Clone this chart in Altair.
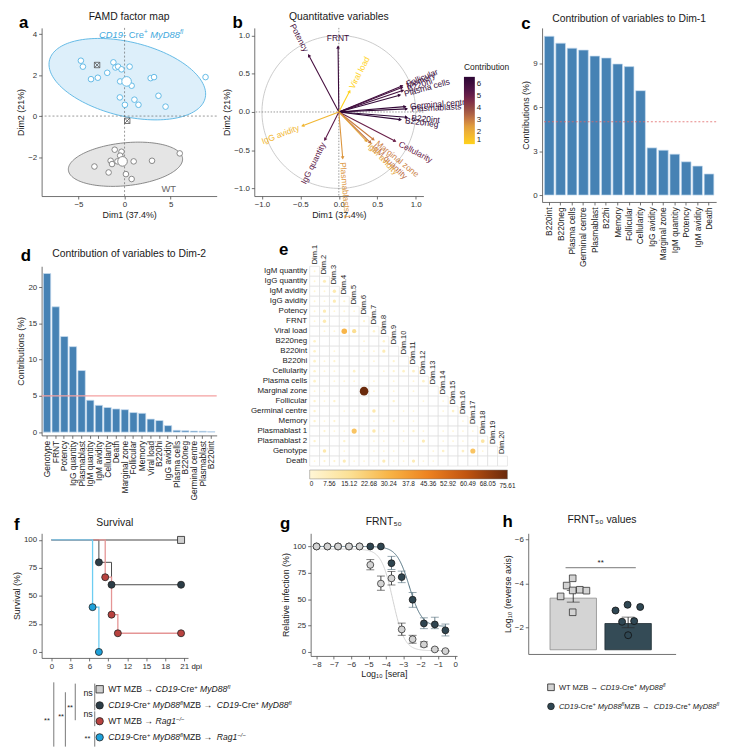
import math
import altair as alt
import numpy as np
import pandas as pd

FONT = "Liberation Sans"
INK = "#1a1a1a"
ONE = pd.DataFrame({"k": [0]})

# ---------------- Panel a : FAMD factor map ----------------
a_cd19_x = [-4.74, -4.52, -1.21, -0.99, -0.70, -0.33, 0.55, -1.88, -2.90, -3.64, -0.48, 0.77, 2.83, 3.20, 8.79, -0.51, 1.07, 1.51, 0.04, 3.68, 4.45]
a_cd19_y = [2.70, 2.41, 2.62, 2.37, 2.41, 2.28, 2.41, 2.11, 1.87, 1.80, 1.69, 1.48, 1.85, 1.90, 1.90, 0.91, 0.80, 0.55, 0.55, 0.99, 0.46]
a_wt_x = [-1.07, -0.33, -0.48, -1.51, -1.36, -0.77, 0.99, -3.27, -1.73, 0.15, 0.77, 2.98, 5.99]
a_wt_y = [-1.64, -1.74, -1.93, -2.18, -2.34, -2.21, -2.21, -2.46, -2.75, -2.83, -3.07, -2.18, -1.82]
a_centroid_x = [0.22, -0.22]
a_centroid_y = [1.69, -2.21]
a_supp_x = [-2.98, 0.29]
a_supp_y = [2.49, -0.23]
a_groups = ["CD19", "WT"]
a_ell_cx = [0.3, 0.1]
a_ell_cy = [1.8, -2.35]
a_ell_a = [8.5, 6.2]
a_ell_b = [1.85, 1.05]
a_ell_tilt = [-0.085, 0.04]

# ---------------- Panel b : variable correlation circle ----------------
b_vars = ["FRNT", "Potency", "Viral load", "Follicular", "Memory", "B220hi", "Plasma cells",
          "Germinal centre", "Plasmablasts", "B220int", "B220neg", "Cellularity", "Marginal zone",
          "IgM quantity", "IgM avidity", "Plasmablasts 1", "IgG quantity", "IgG avidity"]
b_x = [-0.01, -0.39, 0.14, 0.82, 0.82, 0.83, 0.79, 0.86, 0.88, 0.88, 0.80, 0.73, 0.45, 0.41, 0.36, 0.05, -0.18, -0.47]
b_y = [0.85, 0.74, 0.27, 0.34, 0.32, 0.28, 0.22, 0.07, 0.04, -0.07, -0.10, -0.38, -0.36, -0.40, -0.38, -0.60, -0.36, -0.18]
b_contrib = [6.2, 5.8, 1.0, 6.0, 5.9, 6.0, 6.3, 6.4, 6.4, 6.6, 6.5, 5.0, 3.0, 3.3, 2.3, 2.6, 5.2, 1.8]

# ---------------- Panel c : contributions to Dim-1 ----------------
c_vars = ["B220int", "B220neg", "Plasma cells", "Germinal centre", "Plasmablast", "B22hi", "Memory",
          "Follicular", "Cellularity", "IgG avidity", "Marginal zone", "IgM quantity", "Potency",
          "IgM avidity", "Death"]
c_vals = [10.83, 10.36, 10.02, 9.89, 9.48, 9.35, 8.94, 8.76, 7.12, 3.22, 3.06, 2.79, 2.27, 1.98, 1.44]

# ---------------- Panel d : contributions to Dim-2 ----------------
d_vars = ["Genotype", "FRNT", "Potency", "IgG quantity", "Plasmablast", "IgM quantity", "IgM avidity",
          "Cellularity", "Death", "Marginal zone", "Follicular", "Memory", "Viral load", "B220hi",
          "IgG avidity", "Plasma cells", "B220neg", "Germinal centre", "Plasmablast ", "B220int"]
d_vals = [21.9, 17.3, 13.2, 11.8, 8.5, 4.4, 3.7, 3.4, 3.2, 3.1, 2.7, 2.6, 1.8, 1.6, 0.9, 0.25, 0.2, 0.15, 0.12, 0.08]

# ---------------- Panel e : contribution matrix ----------------
e_rows = ["IgM quantity", "IgG quantity", "IgM avidity", "IgG avidity", "Potency", "FRNT", "Viral load",
          "B220neg", "B220int", "B220hi", "Cellularity", "Plasma cells", "Marginal zone", "Follicular",
          "Germinal centre", "Memory", "Plasmablast 1", "Plasmablast 2", "Genotype", "Death"]
e_cols = ["Dim.%d" % i for i in range(1, 21)]
e_igm_quantity = [0.5]
e_igg_quantity = [0.5, 7]
e_igm_avidity = [0.5, 0.5, 9]
e_igg_avidity = [0.5, 0.3, 8, 2]
e_potency = [0.5, 8, 0.3, 0.5, 0.2]
e_frnt = [0.3, 9, 0, 0.4, 0, 2]
e_viral_load = [0, 0.5, 0.5, 30, 16, 0, 3]
e_b220neg = [4, 0, 0, 0, 0, 0.5, 0, 3]
e_b220int = [4, 0, 0.3, 0, 0, 0.4, 0.3, 8, 0]
e_b220hi = [4, 0.4, 2, 0, 0, 0, 0.4, 0, 2, 0]
e_cellularity = [3, 0.5, 0.5, 0, 4, 0.3, 0, 0.5, 2, 4, 5]
e_plasma_cells = [4, 0, 0.3, 0.5, 0.5, 0, 0.5, 0, 0.4, 0, 0.4, 4]
e_marginal_zone = [0.5, 0.5, 0, 0, 0, 75.61, 0.5, 0, 0.4, 0, 0.4, 0, 0]
e_follicular = [3, 0.3, 3, 0, 0, 0, 0, 0, 3, 0, 0, 0.3, 0, 0.3]
e_germinal_centre = [3, 0, 0, 0.3, 0.5, 0.3, 10, 0, 0, 0.3, 0.3, 0, 0, 0.3, 4]
e_memory = [3, 0.3, 2, 0, 0, 0, 0.3, 0, 2, 0, 0.3, 0, 0, 0, 0, 0.3]
e_plasmablast1 = [0, 2, 0.3, 0.3, 25, 0.5, 10, 0.5, 0, 0.5, 3, 0.5, 0, 0.3, 0.3, 0.3, 0.3]
e_plasmablast2 = [3, 0, 0, 3, 0, 0, 0.5, 0.5, 0, 0.5, 0, 8, 0, 0.5, 0.5, 0.5, 0.5, 12]
e_genotype = [0, 10, 0, 0.3, 0, 0, 0.3, 0.3, 0.3, 0, 0, 0, 0.5, 4, 0, 5, 25, 0.3, 0]
e_death = [0.3, 2, 2, 8, 0.3, 0.5, 0.5, 8, 0.5, 0.5, 8, 0.5, 0.3]
e_ticks = [0, 7.56, 15.12, 22.68, 30.24, 37.8, 45.36, 52.92, 60.49, 68.05, 75.61]

# ---------------- Panel f : survival ----------------
f_names = ["wt_cd19", "cd19_cd19", "wt_rag", "cd19_rag"]
f_wt_cd19_t = [0, 20.5]
f_wt_cd19_s = [100, 100]
f_cd19_cd19_t = [0, 7.5, 9.5, 20.5]
f_cd19_cd19_s = [100, 80, 60, 60]
f_wt_rag_t = [0, 8.5, 9.5, 10.5, 20.5]
f_wt_rag_s = [100, 66.7, 33.3, 16.7, 16.7]
f_cd19_rag_t = [0, 6.5, 7.5]
f_cd19_rag_s = [100, 40, 0]

# ---------------- Panel g : FRNT50 curves ----------------
g_logsera = [-8, -7.37, -6.76, -6.13, -5.52, -4.9, -4.29, -3.68, -3.09, -2.46, -1.81, -1.18, -0.57]
g_wt = [100, 100, 100, 100, 100, 82.5, 64.7, 69.7, 21.2, 11.9, 6.9, 2.2, 0.6]
g_wt_lo = [100, 100, 100, 100, 100, 77.8, 58.4, 63.4, 15.6, 8.1, 4.7, 1.2, 0.2]
g_wt_hi = [100, 100, 100, 100, 100, 87.5, 71.9, 76.3, 27.2, 15.6, 9.4, 3.2, 1.0]
g_ko = [100, 100, 100, 100, 100, 100, 100, 84.1, 70.9, 49.4, 26.9, 25.9, 20.3]
g_ko_lo = [100, 100, 100, 100, 100, 100, 100, 78.1, 65.6, 42.2, 21.9, 21.9, 15.0]
g_ko_hi = [100, 100, 100, 100, 100, 100, 100, 90.6, 76.6, 56.3, 32.2, 32.8, 26.3]
g_fit_top = [97.5, 100]
g_fit_bottom = [1.0, 24.0]
g_fit_logic50 = [-3.6, -2.65]
g_fit_hill = [1.3, 1.2]

# ---------------- Panel h : FRNT50 values ----------------
h_wt_x = [0.99, 0.88, 0.99, 1.12, 1.24, 0.77, 0.99]
h_wt_y = [-4.24, -3.91, -3.69, -3.72, -3.68, -3.42, -2.70]
h_ko_x = [1.77, 1.99, 2.22, 1.89, 2.11, 2.00]
h_ko_y = [-2.78, -3.04, -2.94, -2.27, -2.30, -1.66]
h_mean = [-3.34, -2.19]
h_sem_lo = [-3.16, -2.00]
h_sem_hi = [-3.69, -2.48]
h_center = [1.0, 2.0]

# ---------------- helpers ----------------
_W = {" ": 278, "-": 333, "+": 584, "\u2192": 1000, "\u2212": 584, "/": 278, "(": 333, ")": 333, ".": 278}
for _ch in "0123456789":
    _W[_ch] = 556
_W.update(dict(zip("ABCDEFGHIJKLMNOPQRSTUVWXYZ",
                   [667, 667, 722, 722, 667, 611, 778, 722, 278, 500, 667, 556, 833, 722, 778, 667, 778, 722, 667, 611, 722, 667, 944, 667, 667, 611])))
_W.update(dict(zip("abcdefghijklmnopqrstuvwxyz",
                   [556, 556, 500, 556, 556, 278, 556, 556, 222, 222, 500, 222, 833, 556, 556, 556, 556, 333, 500, 278, 556, 500, 722, 500, 500, 500])))


def tw(s, size):
    return sum(_W.get(c, 556) for c in s) * size / 1000.0


def letter(ch, x, y):
    return alt.Chart(ONE).mark_text(align="left", baseline="alphabetic", fontSize=17, fontWeight="bold",
                                    font=FONT, color="black").encode(
        x=alt.value(x), y=alt.value(y), text=alt.value(ch))


def seg_layers(segs, x0, y0, size, color):
    layers = []
    x = x0
    for text, it, sup in segs:
        fs = size * 0.68 if sup else size
        if text.strip():
            layers.append(alt.Chart(ONE).mark_text(
                align="left", baseline="alphabetic", font=FONT, fontSize=fs,
                fontStyle="italic" if it else "normal", color=color).encode(
                x=alt.value(x), y=alt.value(y0 - (size * 0.4 if sup else 0)), text=alt.value(text)))
        x += tw(text, fs)
    return layers


def ptext(t, x, y, size, color=INK, align="center", baseline="middle"):
    return alt.Chart(ONE).mark_text(align=align, baseline=baseline, font=FONT, fontSize=size, color=color).encode(
        x=alt.value(x), y=alt.value(y), text=alt.value(t))


def ptitle(t, w, off):
    return ptext(t, w / 2.0, -off, 10.5, baseline="alphabetic")


def vline(x, y1, y2, color="#555555"):
    return alt.Chart(ONE).mark_rule(color=color, strokeWidth=0.8).encode(
        x=alt.value(x), y=alt.value(y1), y2=alt.value(y2))


def psym(x, y, shape, fill, size=55):
    return alt.Chart(ONE).mark_point(shape=shape, filled=True, fill=fill, stroke="#222222", strokeWidth=0.8,
                                     size=size, opacity=1).encode(x=alt.value(x), y=alt.value(y))


IND = dict(color="independent", fill="independent", stroke="independent", size="independent",
           shape="independent", opacity="independent")


def H(*charts, spacing=0):
    return alt.hconcat(*charts, spacing=spacing).resolve_scale(**IND)


def V(*charts, spacing=0):
    return alt.vconcat(*charts, spacing=spacing).resolve_scale(**IND)


# ======================= Panel a =======================
A_BLUE, A_GREY = "#55B3E3", "#7C7C7C"
xa = alt.Scale(domain=[-9, 10], nice=False, zero=False)
ya = alt.Scale(domain=[-3.9, 4.3], nice=False, zero=False)
ax_ax = alt.Axis(values=[-5, 0, 5], title="Dim1 (37.4%)")
ax_ay = alt.Axis(values=[-2, 0, 2, 4], title="Dim2 (21%)")


def XA(f):
    return alt.X(f, type="quantitative", scale=xa, axis=ax_ax)


def YA(f):
    return alt.Y(f, type="quantitative", scale=ya, axis=ax_ay)


ell_area, ell_line = [], []
for g, cx, cy, A, B, k in zip(a_groups, a_ell_cx, a_ell_cy, a_ell_a, a_ell_b, a_ell_tilt):
    ts = np.linspace(0, np.pi, 73)
    n = len(ts)
    for i, t in enumerate(ts):
        dx = A * np.cos(t)
        up = cy + k * dx + B * np.sin(t)
        lo = cy + k * dx - B * np.sin(t)
        ell_area.append({"g": g, "x": cx + dx, "up": up, "lo": lo})
        ell_line.append({"g": g, "x": cx + dx, "y": up, "o": i})
        ell_line.append({"g": g, "x": cx + dx, "y": lo, "o": 2 * n - 1 - i})
ell_area = pd.DataFrame(ell_area)
ell_line = pd.DataFrame(ell_line)

a_pts_df = pd.DataFrame({"x": a_cd19_x + a_wt_x, "y": a_cd19_y + a_wt_y,
                         "g": ["CD19"] * len(a_cd19_x) + ["WT"] * len(a_wt_x)})
a_cen_df = pd.DataFrame({"x": a_centroid_x, "y": a_centroid_y, "g": a_groups})
a_sup_df = pd.DataFrame({"x": a_supp_x, "y": a_supp_y})

a_layers = []
for g, fillc, strokec in [("CD19", "#DDEFFA", A_BLUE), ("WT", "#E5E5E5", A_GREY)]:
    flt = "datum.g == '%s'" % g
    a_layers.append(alt.Chart(ell_area).transform_filter(flt).mark_area(opacity=1, color=fillc).encode(
        x=XA("x"), y=YA("up"), y2="lo:Q"))
    a_layers.append(alt.Chart(ell_line).transform_filter(flt).mark_line(strokeWidth=0.9, color=strokec).encode(
        x=XA("x"), y=YA("y"), order="o:Q"))
a_layers += [
    alt.Chart(ONE).mark_rule(strokeDash=[2, 2], color="#555555", strokeWidth=0.6).encode(x=alt.datum(0)),
    alt.Chart(ONE).mark_rule(strokeDash=[2, 2], color="#555555", strokeWidth=0.6).encode(y=alt.datum(0)),
]
for g, strokec in [("CD19", A_BLUE), ("WT", A_GREY)]:
    flt = "datum.g == '%s'" % g
    a_layers.append(alt.Chart(a_pts_df).transform_filter(flt).mark_point(
        shape="circle", filled=True, fill="white", stroke=strokec, size=32, strokeWidth=0.9, opacity=1).encode(
        x=XA("x"), y=YA("y")))
    a_layers.append(alt.Chart(a_cen_df).transform_filter(flt).mark_point(
        shape="circle", filled=True, fill="white", stroke=strokec, size=95, strokeWidth=0.9, opacity=1).encode(
        x=XA("x"), y=YA("y")))
a_layers += [
    alt.Chart(a_sup_df).mark_point(shape="M-1,-1L1,-1L1,1L-1,1Z M-1,-1L1,1 M1,-1L-1,1", filled=False, size=30,
                                   color="#555555", strokeWidth=0.8, opacity=1).encode(x=XA("x"), y=YA("y")),
    alt.Chart(ONE).mark_text(fontSize=9.5, color="#666666", font=FONT).encode(
        x=alt.datum(4.8), y=alt.datum(-3.54), text=alt.value("WT")),
    letter("a", -23, 0),
    ptitle("FAMD factor map", 177, 8),
]
a_layers += seg_layers([("CD19", True, False), ("- Cre", False, False), ("+", False, True), (" ", False, False),
                        ("MyD88", True, False), ("fl", True, True)], 58, 10, 9.5, "#3FA9DD")
pa = alt.layer(*a_layers).properties(width=177, height=170)

# ======================= Panel b =======================
xb = alt.Scale(domain=[-1.1, 1.1], nice=False, zero=False)
yb = alt.Scale(domain=[-1.1, 1.1], nice=False, zero=False)
ax_bx = alt.Axis(values=[-1, -0.5, 0, 0.5, 1], format=".1f", title="Dim1 (37.4%)")
ax_by = alt.Axis(values=[-1, -0.5, 0, 0.5, 1], format=".1f", title="Dim2 (21%)")


def XB(f):
    return alt.X(f, type="quantitative", scale=xb, axis=ax_bx)


def YB(f):
    return alt.Y(f, type="quantitative", scale=yb, axis=ax_by)


rows_b, trail_b = [], []
for v, x, y, c in zip(b_vars, b_x, b_y, b_contrib):
    phi = math.degrees(math.atan2(y, x))
    rot = (-phi) % 360
    if abs(x) < 0.05 and y > 0:
        side, ta = "T", 0
    elif x >= 0:
        side, ta = "R", (-phi) % 360
    else:
        side, ta = "L", (180 - phi) % 360
    rows_b.append({"var": v, "x": x, "y": y, "c": c, "rot": rot, "ta": ta,
                   "side": side, "lx": x * 1.03, "ly": y * 1.03})
    trail_b.append({"var": v, "x": 0.0, "y": 0.0, "c": c, "o": 0})
    trail_b.append({"var": v, "x": x, "y": y, "c": c, "o": 1})
b_df = pd.DataFrame(rows_b)
b_trail = pd.DataFrame(trail_b)
th = np.linspace(0, 2 * np.pi, 181)
b_circ = pd.DataFrame({"cx": np.cos(th), "cy": np.sin(th), "o": np.arange(len(th))})

CB_SCALE = alt.Scale(domain=[1, 2.4, 3.8, 5.2, 6.6], range=["#FFD21A", "#E3A33B", "#9B5443", "#5E1B4A", "#2C0634"])
CB_LEG = alt.Legend(
    type="gradient", title="Contribution", orient="none", legendX=212, legendY=36, gradientLength=68,
    gradientThickness=11, values=[1, 2, 3, 4, 5, 6], titleFontSize=8.5, titleFontWeight="normal",
    labelFontSize=8, direction="vertical", gradientStrokeWidth=0)
CBF = alt.Fill("c:Q", scale=CB_SCALE, legend=CB_LEG)

pb = alt.layer(
    alt.Chart(b_circ).mark_line(color="#BDBDBD", strokeWidth=0.8).encode(x=XB("cx"), y=YB("cy"), order="o:Q"),
    alt.Chart(ONE).mark_rule(strokeDash=[1.5, 1.5], color="#555555", strokeWidth=0.6).encode(x=alt.datum(0)),
    alt.Chart(ONE).mark_rule(strokeDash=[1.5, 1.5], color="#555555", strokeWidth=0.6).encode(y=alt.datum(0)),
    alt.Chart(b_trail).mark_trail().encode(x=XB("x"), y=YB("y"), detail="var:N", order="o:Q",
                                           size=alt.value(1.1), fill=CBF),
    alt.Chart(b_df).mark_point(shape="triangle-right", filled=True, size=14, opacity=1).encode(
        x=XB("x"), y=YB("y"), angle=alt.Angle("rot:Q", scale=None), fill=CBF),
    alt.Chart(b_df).transform_filter("datum.side == 'R'").mark_text(
        align="left", baseline="middle", dx=3, fontSize=8.5, font=FONT).encode(
        x=XB("lx"), y=YB("ly"), text="var:N", angle=alt.Angle("ta:Q", scale=None), fill=CBF),
    alt.Chart(b_df).transform_filter("datum.side == 'L'").mark_text(
        align="right", baseline="middle", dx=-3, fontSize=8.5, font=FONT).encode(
        x=XB("lx"), y=YB("ly"), text="var:N", angle=alt.Angle("ta:Q", scale=None), fill=CBF),
    alt.Chart(b_df).transform_filter("datum.side == 'T'").mark_text(
        align="center", baseline="bottom", dy=-2, fontSize=8.5, font=FONT).encode(
        x=XB("lx"), y=YB("ly"), text="var:N", fill=CBF),
    letter("b", -22, 0),
    ptitle("Quantitative variables", 171, 8),
).properties(width=171, height=170)

# ======================= Panel c =======================
c_df = pd.DataFrame({"v": c_vars, "val": c_vals})
pc = alt.layer(
    alt.Chart(c_df).mark_bar(color="#4682B4", stroke="#C9DDF0", strokeWidth=0.7).encode(
        x=alt.X("v:N", sort=c_vars, scale=alt.Scale(paddingInner=0.15, paddingOuter=0.2),
                axis=alt.Axis(title=None, labelAngle=270, labelFontSize=8.5, labelColor=INK)),
        y=alt.Y("val:Q", scale=alt.Scale(domain=[-0.47, 11.4], nice=False, zero=False),
                axis=alt.Axis(values=[0, 3, 6, 9], title="Contributions (%)")),
        y2=alt.datum(0)),
    alt.Chart(ONE).mark_rule(color="#E06666", strokeDash=[2, 2], strokeWidth=0.8).encode(y=alt.datum(5)),
    letter("c", -21, 1),
    ptitle("Contribution of variables to Dim-1", 176, 6),
).properties(width=176, height=176)

# ======================= Panel d =======================
d_df = pd.DataFrame({"v": d_vars, "val": d_vals})
pdd = alt.layer(
    alt.Chart(d_df).mark_bar(color="#4682B4", stroke="#C9DDF0", strokeWidth=0.7).encode(
        x=alt.X("v:N", sort=d_vars, scale=alt.Scale(paddingInner=0.15, paddingOuter=0.2),
                axis=alt.Axis(title=None, labelAngle=270, labelFontSize=8.5, labelColor=INK)),
        y=alt.Y("val:Q", scale=alt.Scale(domain=[-0.45, 22.9], nice=False, zero=False),
                axis=alt.Axis(values=[0, 5, 10, 15, 20], title="Contributions (%)")),
        y2=alt.datum(0)),
    alt.Chart(ONE).mark_rule(color="#F4A0A0", strokeWidth=1.4).encode(y=alt.datum(5)),
    letter("d", -21, -5),
    ptitle("Contribution of variables to Dim-2", 177, 9),
).properties(width=177, height=171)

# ======================= Panel e =======================
e_lists = [e_igm_quantity, e_igg_quantity, e_igm_avidity, e_igg_avidity, e_potency, e_frnt, e_viral_load,
           e_b220neg, e_b220int, e_b220hi, e_cellularity, e_plasma_cells, e_marginal_zone, e_follicular,
           e_germinal_centre, e_memory, e_plasmablast1, e_plasmablast2, e_genotype, e_death]
cells = []
for i, r in enumerate(e_rows):
    vals = e_lists[i]
    for j in range(i + 1):
        cells.append({"row": r, "col": e_cols[j], "v": vals[j] if j < len(vals) else 0.0})
e_df = pd.DataFrame(cells)
e_lab = pd.DataFrame({"row": e_rows, "col": e_cols})
EX = alt.Scale(paddingInner=0, paddingOuter=0)
EY = alt.Scale(paddingInner=0, paddingOuter=0)
e_yaxis = alt.Axis(title=None, domain=False, ticks=False, labelFontSize=8, labelPadding=3, labelColor=INK)
E_COLOR = alt.Scale(domain=[0, 15, 30, 45, 60, 75.61],
                    range=["#FFF6D6", "#FCE196", "#F8B548", "#EE8321", "#C05410", "#6A2A0C"])

pe = alt.layer(
    alt.Chart(e_df).mark_rect(fill="white", stroke="#DADADA", strokeWidth=0.6).encode(
        x=alt.X("col:N", sort=e_cols, scale=EX, axis=None),
        y=alt.Y("row:N", sort=e_rows, scale=EY, axis=e_yaxis)),
    alt.Chart(e_df).transform_filter("datum.v > 0").mark_circle(opacity=1).encode(
        x=alt.X("col:N", sort=e_cols, scale=EX, axis=None),
        y=alt.Y("row:N", sort=e_rows, scale=EY, axis=e_yaxis),
        size=alt.Size("v:Q", scale=alt.Scale(domain=[0, 75.61], range=[3, 75]), legend=None),
        color=alt.Color("v:Q", scale=E_COLOR, legend=alt.Legend(
            type="gradient", orient="none", direction="horizontal", legendX=0, legendY=206, gradientLength=200,
            gradientThickness=9, values=e_ticks[:-1], title=None, labelFontSize=6.5, labelOverlap=False,
            labelExpr="toString(datum.value)", gradientStrokeColor="#7F7F7F", gradientStrokeWidth=0.5))),
    alt.Chart(e_lab).mark_text(angle=270, align="left", baseline="middle", dx=2, fontSize=7.5, font=FONT,
                               color=INK).encode(
        x=alt.X("col:N", sort=e_cols, scale=EX, axis=None),
        y=alt.Y("row:N", sort=e_rows, scale=EY, axis=e_yaxis, bandPosition=0),
        text="col:N"),
    ptext(str(e_ticks[-1]), 200, 219, 6.5, baseline="top"),
    letter("e", -31, -11),
).properties(width=200, height=202)

# ======================= Panel f =======================
F_LINE = ["#A3A3A3", "#4A4A4A", "#E59595", "#6DCDF2"]
F_FILL = ["#D0D0D0", "#2C3D47", "#B8423F", "#1EA1DA"]
F_SHAPE = ["square", "circle", "circle", "circle"]
F_LW = [2.0, 1.0, 1.3, 1.3]
f_times = [f_wt_cd19_t, f_cd19_cd19_t, f_wt_rag_t, f_cd19_rag_t]
f_surv = [f_wt_cd19_s, f_cd19_cd19_s, f_wt_rag_s, f_cd19_rag_s]
xf = alt.Scale(domain=[-1.56, 21.6], nice=False, zero=False)
yf = alt.Scale(domain=[-5.3, 105.9], nice=False, zero=False)
ax_fx = alt.Axis(values=list(range(0, 22, 3)), title="dpi", titleX=151, titleY=5, titleAlign="left",
                 titleBaseline="top", titleFontSize=8, titleAngle=0)
ax_fy = alt.Axis(values=[0, 25, 50, 75, 100], title="Survival (%)")
f_layers = []
for k in range(4):
    df = pd.DataFrame({"t": f_times[k], "s": f_surv[k]})
    f_layers.append(alt.Chart(df).mark_line(interpolate="step-after", color=F_LINE[k], strokeWidth=F_LW[k]).encode(
        x=alt.X("t:Q", scale=xf, axis=ax_fx), y=alt.Y("s:Q", scale=yf, axis=ax_fy)))
for k in range(4):
    df = pd.DataFrame({"t": f_times[k][1:], "s": f_surv[k][1:]})
    f_layers.append(alt.Chart(df).mark_point(shape=F_SHAPE[k], filled=True, fill=F_FILL[k], stroke="#222222",
                                             strokeWidth=0.8, size=50, opacity=1).encode(
        x=alt.X("t:Q", scale=xf, axis=ax_fx), y=alt.Y("s:Q", scale=yf, axis=ax_fy)))
f_layers.append(letter("f", -28, -3))
f_layers.append(ptitle("Survival", 148, 7))
pf = alt.layer(*f_layers).properties(width=148, height=126)

# ======================= Panel g =======================
xg = alt.Scale(domain=[-8.34, 0.1], nice=False, zero=False)
yg = alt.Scale(domain=[-4, 112.5], nice=False, zero=False)
ax_gx = alt.Axis(values=list(range(-8, 1)), title="Log\u2081\u2080 [sera]", titlePadding=1)
ax_gy = alt.Axis(values=[0, 25, 50, 75, 100], title="Relative infection (%)")
g_df = pd.DataFrame({"x": g_logsera * 2, "y": g_wt + g_ko, "lo": g_wt_lo + g_ko_lo, "hi": g_wt_hi + g_ko_hi,
                     "grp": ["wt"] * len(g_wt) + ["ko"] * len(g_ko)})
g_err = g_df[g_df["lo"] != g_df["hi"]]
g_caps = pd.concat([g_err[["x", "grp"]].assign(yv=g_err["lo"]), g_err[["x", "grp"]].assign(yv=g_err["hi"])])


def fit_expr(i):
    return "%g+(%g-%g)/(1+pow(10,(datum.lx-(%g))*%g))" % (
        g_fit_bottom[i], g_fit_top[i], g_fit_bottom[i], g_fit_logic50[i], g_fit_hill[i])


g_layers = []
for i, col in [(0, "#CFCFCF"), (1, "#4E6E7D")]:
    g_layers.append(alt.Chart(alt.sequence(-8, -0.55, 0.02, as_="lx")).transform_calculate(
        val=fit_expr(i)).mark_line(strokeWidth=1, color=col).encode(
        x=alt.X("lx:Q", scale=xg, axis=ax_gx), y=alt.Y("val:Q", scale=yg, axis=ax_gy)))
for grp, ecol in [("ko", "#5A7380"), ("wt", "#333333")]:
    g_layers.append(alt.Chart(g_err).transform_filter("datum.grp == '%s'" % grp).mark_rule(
        color=ecol, strokeWidth=0.9).encode(x=alt.X("x:Q", scale=xg, axis=ax_gx),
                                            y=alt.Y("lo:Q", scale=yg, axis=ax_gy), y2="hi:Q"))
    g_layers.append(alt.Chart(g_caps).transform_filter("datum.grp == '%s'" % grp).mark_tick(
        orient="horizontal", size=8, thickness=0.9, color=ecol).encode(
        x=alt.X("x:Q", scale=xg, axis=ax_gx), y=alt.Y("yv:Q", scale=yg, axis=ax_gy)))
g_layers.append(alt.Chart(g_df).transform_filter("datum.grp == 'ko'").mark_point(
    shape="circle", filled=True, fill="#2F4550", stroke="#1A1A1A", strokeWidth=0.8, size=48, opacity=1).encode(
    x=alt.X("x:Q", scale=xg, axis=ax_gx), y=alt.Y("y:Q", scale=yg, axis=ax_gy)))
g_layers.append(alt.Chart(g_df).transform_filter("datum.grp == 'wt'").mark_point(
    shape="circle", filled=True, fill="#D3D3D3", stroke="#333333", strokeWidth=0.8, size=48, opacity=1).encode(
    x=alt.X("x:Q", scale=xg, axis=ax_gx), y=alt.Y("y:Q", scale=yg, axis=ax_gy)))
g_layers.append(letter("g", -31, -4))
g_layers.append(ptitle("FRNT\u2085\u2080", 148, 8))
pg = alt.layer(*g_layers).properties(width=148, height=124)

# ======================= Panel h =======================
xh = alt.Scale(domain=[0.18, 2.865], nice=False, zero=False)
yh = alt.Scale(domain=[-6.28, -0.81], reverse=True, nice=False, zero=False)
ax_hx = alt.Axis(title=None, labels=False, ticks=False)
ax_hy = alt.Axis(values=[-6, -5, -4, -3, -2, -1], title="Log\u2081\u2080 (reverse axis)")
h_bar = pd.DataFrame({"x1": [c - 0.423 for c in h_center], "x2": [c + 0.423 for c in h_center], "m": h_mean,
                      "lo": h_sem_lo, "hi": h_sem_hi, "xc": h_center, "grp": ["wt", "ko"]})
h_caps = pd.concat([h_bar[["xc"]].assign(yv=h_bar["lo"]), h_bar[["xc"]].assign(yv=h_bar["hi"])])
h_layers = []
for grp, fillc, strokec in [("wt", "#D4D4D4", "#8C8C8C"), ("ko", "#344B56", "#1E2D33")]:
    h_layers.append(alt.Chart(h_bar).transform_filter("datum.grp == '%s'" % grp).mark_bar(
        fill=fillc, stroke=strokec, strokeWidth=0.8, opacity=1).encode(
        x=alt.X("x1:Q", scale=xh, axis=ax_hx), x2="x2:Q", y=alt.Y("m:Q", scale=yh, axis=ax_hy), y2=alt.datum(-1)))
h_layers += [
    alt.Chart(h_bar).mark_rule(color="#2B2B2B", strokeWidth=0.9).encode(
        x=alt.X("xc:Q", scale=xh, axis=ax_hx), y=alt.Y("lo:Q", scale=yh, axis=ax_hy), y2="hi:Q"),
    alt.Chart(h_caps).mark_tick(orient="horizontal", size=13, thickness=0.9, color="#2B2B2B").encode(
        x=alt.X("xc:Q", scale=xh, axis=ax_hx), y=alt.Y("yv:Q", scale=yh, axis=ax_hy)),
    alt.Chart(pd.DataFrame({"x": h_wt_x, "y": h_wt_y})).mark_point(
        shape="square", filled=True, fill="#D3D3D3", stroke="#333333", strokeWidth=0.8, size=45, opacity=1).encode(
        x=alt.X("x:Q", scale=xh, axis=ax_hx), y=alt.Y("y:Q", scale=yh, axis=ax_hy)),
    alt.Chart(pd.DataFrame({"x": h_ko_x, "y": h_ko_y})).mark_point(
        shape="circle", filled=True, fill="#2F4753", stroke="#111111", strokeWidth=0.8, size=50, opacity=1).encode(
        x=alt.X("x:Q", scale=xh, axis=ax_hx), y=alt.Y("y:Q", scale=yh, axis=ax_hy)),
    alt.Chart(ONE).mark_rule(color="#555555", strokeWidth=0.8).encode(
        x=alt.datum(0.86), x2=alt.datum(2.14), y=alt.datum(-4.72)),
    alt.Chart(ONE).mark_text(fontSize=8, font=FONT, color=INK, dy=-5).encode(
        x=alt.datum(1.5), y=alt.datum(-4.72), text=alt.value("**")),
    letter("h", -26, -6),
    ptitle("FRNT\u2085\u2080 values", 149, 10),
]
ph = alt.layer(*h_layers).properties(width=149, height=122)

# ======================= Legends (f and h) =======================
CD19_SEGS = [("CD19", True, False), ("-Cre", False, False), ("+", False, True), (" ", False, False),
             ("MyD88", True, False), ("fl", True, True)]
f_leg_text = [
    [("WT MZB \u2192 ", False, False)] + CD19_SEGS,
    CD19_SEGS + [(" MZB \u2192 ", False, False)] + CD19_SEGS,
    [("WT MZB \u2192 ", False, False), ("Rag1", True, False), ("\u2212/\u2212", True, True)],
    CD19_SEGS + [(" MZB \u2192 ", False, False), ("Rag1", True, False), ("\u2212/\u2212", True, True)],
]
f_leg_base = [13.7, 30.0, 46.0, 62.3]
lf = []
for k in range(4):
    lf.append(psym(58.7, f_leg_base[k] - 3, F_SHAPE[k], F_FILL[k]))
    lf += seg_layers(f_leg_text[k], 67.3, f_leg_base[k], 8.7, INK)
lf += [
    vline(53.7, 5, 32), ptext("ns", 47, 15, 9),
    vline(53.7, 33, 48), ptext("ns", 47, 36, 9),
    vline(53.7, 53.7, 68.7), ptext("**", 46.3, 61, 7.5),
    vline(34, 5, 42), ptext("**", 28.7, 30, 7.5),
    vline(24, 13.7, 68.7), ptext("**", 19.7, 38.5, 7.5),
    vline(12.3, 3.7, 68.7), ptext("**", 5.3, 42.5, 7.5),
]
leg_f = alt.layer(*lf).properties(width=496, height=70)

h_leg_text = [
    [("WT MZB \u2192 ", False, False)] + CD19_SEGS,
    CD19_SEGS + [(" MZB \u2192 ", False, False)] + CD19_SEGS,
]
h_leg_base = [11.7, 31.0]
lh = []
for k, (shape, fill) in enumerate([("square", "#D3D3D3"), ("circle", "#2F4753")]):
    lh.append(psym(9, h_leg_base[k] - 3, shape, fill, size=45))
    lh += seg_layers(h_leg_text[k], 17, h_leg_base[k], 7.6, INK)
leg_h = alt.layer(*lh).properties(width=190, height=40)

# ======================= Assembly =======================
top_left = V(H(pa, pb, spacing=5), H(pdd, pe, spacing=33), spacing=22)
top = H(top_left, pc, spacing=5)
bottom = V(H(H(pf, pg, spacing=79), ph, spacing=45), H(leg_f, leg_h, spacing=10), spacing=0)

chart = V(top, bottom, spacing=13).properties(
    padding={"left": 4, "top": 0, "right": 0, "bottom": 0}
).configure(font=FONT).configure_view(stroke=None).configure_axis(
    domainColor="#4D4D4D", tickColor="#4D4D4D", labelColor="#333333", titleColor=INK, labelFontSize=8,
    titleFontSize=9, titleFontWeight="normal", tickSize=3, labelPadding=2, titlePadding=2, grid=False,
    labelFont=FONT, titleFont=FONT, domainWidth=0.8, tickWidth=0.8
).configure_legend(labelFont=FONT, titleFont=FONT, labelColor=INK, titleColor=INK)

chart.save("out.html", embed_options={"renderer": "svg", "actions": False})
